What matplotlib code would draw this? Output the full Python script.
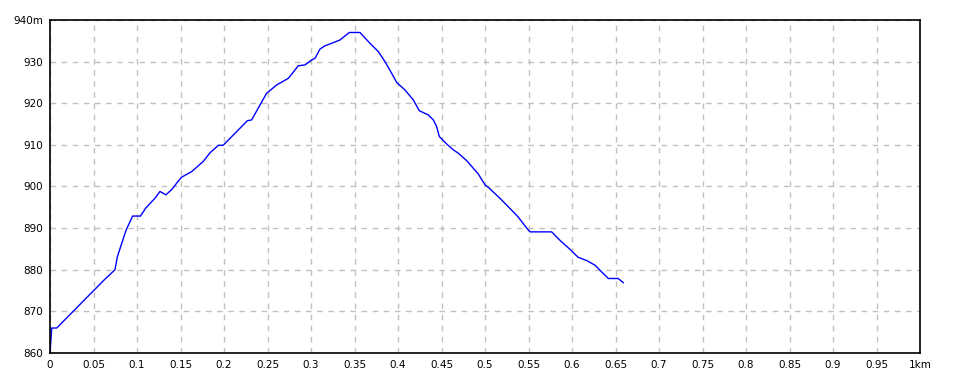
import numpy as np
import matplotlib
matplotlib.use("Agg")
import matplotlib.pyplot as plt

# distance (km) / elevation (m)
dist = [0.0, 0.001, 0.002, 0.0077, 0.062, 0.0747, 0.0774, 0.0805, 0.0874, 0.095,
        0.104, 0.110, 0.1207, 0.1264, 0.1333, 0.140, 0.1456, 0.151, 0.163, 0.176,
        0.184, 0.1935, 0.199, 0.2165, 0.2268, 0.2318, 0.2414, 0.249, 0.2606, 0.274,
        0.2854, 0.293, 0.3008, 0.3046, 0.3103, 0.316, 0.3238, 0.3333, 0.344, 0.3563,
        0.3678, 0.3774, 0.385, 0.3927, 0.3985, 0.408, 0.4176, 0.4245, 0.4348, 0.4406,
        0.4444, 0.4475, 0.456, 0.4636, 0.4693, 0.479, 0.4923, 0.5, 0.5038, 0.517,
        0.5326, 0.538, 0.548, 0.5517, 0.5766, 0.586, 0.5977, 0.607, 0.617, 0.6264,
        0.634, 0.6418, 0.653, 0.659]
elev = [860, 863, 866, 866, 877.5, 880, 883.1, 885.1, 889.5, 892.9,
        892.9, 894.8, 897.2, 898.8, 898.0, 899.3, 900.8, 902.2, 903.6, 906,
        908.1, 909.9, 909.9, 913.6, 915.8, 916, 919.6, 922.4, 924.4, 926,
        929, 929.2, 930.4, 930.8, 933, 933.8, 934.4, 935.2, 937, 937,
        934.4, 932.4, 930, 927.2, 925, 923.2, 920.8, 918.2, 917.2, 916,
        914.4, 912, 910.2, 908.8, 908, 906.2, 903, 900.4, 899.8, 897.2,
        893.9, 892.7, 890, 889.1, 889.1, 887.1, 884.9, 883, 882.2, 881.1,
        879.5, 877.9, 877.9, 876.9]

xticks = np.arange(0, 1.0001, 0.05)
xlabels = ["0"] + ["%g" % t for t in xticks[1:-1]] + ["1km"]
yticks = np.arange(860, 941, 10)
ylabels = [str(t) for t in yticks[:-1]] + ["940m"]

fig = plt.figure(figsize=(9.6, 3.84), dpi=100)
ax = fig.add_axes([50/960, 1-353/384, 870/960, 333/384])

ax.plot(dist, elev, color="#0000ff", lw=1)

ax.set_xlim(0, 1)
ax.set_ylim(860, 940)
ax.set_xticks(xticks)
ax.set_xticklabels(xlabels)
ax.set_yticks(yticks)
ax.set_yticklabels(ylabels)
ax.tick_params(length=0, labelsize=7.5, pad=5)
ax.grid(True, color="#c0c0c0", linestyle=(0, (4, 4)), lw=1)
for s in ax.spines.values():
    s.set_linewidth(1.2)
    s.set_color("black")

plt.savefig("out.png", dpi=100)
